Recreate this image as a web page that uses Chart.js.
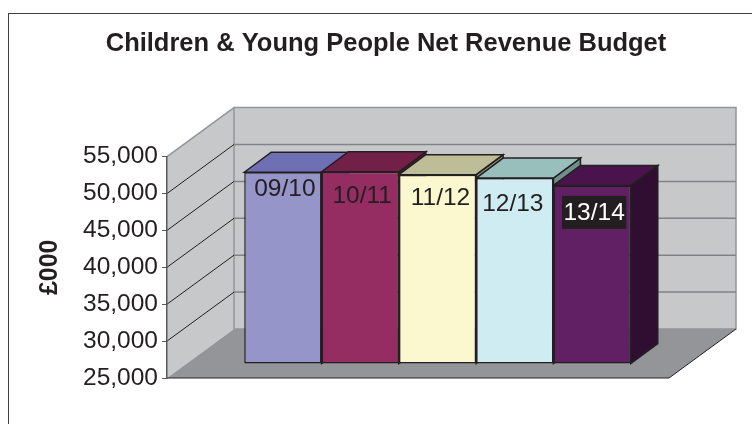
<!DOCTYPE html>
<html>
<head>
<meta charset="utf-8">
<style>
  html, body { margin: 0; padding: 0; background: #fff; overflow: hidden; }
  #wrap { position: relative; width: 752px; height: 424px; overflow: hidden; }
  #frame { position: absolute; left: 8px; top: 13px; width: 780px; height: 440px;
           border: 1.5px solid #414042; box-sizing: border-box; }
  canvas { position: absolute; left: 0; top: 0; }
</style>
</head>
<body>
<div id="wrap">
  <div id="frame"></div>
  <canvas id="c" width="752" height="424"></canvas>
</div>
<script src="https://cdn.jsdelivr.net/npm/chart.js@4/dist/chart.umd.min.js"></script>
<script>
// Net revenue budget by financial year, in thousands of pounds
const years = ['09/10', '10/11', '11/12', '12/13', '13/14'];
const budget = [50980, 51050, 50650, 50200, 49200];
const tickValues = [25000, 30000, 35000, 40000, 45000, 50000, 55000];

const frontFill = ['#9595c9', '#952d62', '#fbf8cf', '#cfecf3', '#612063'];
const topFill = ['#6f6fb3', '#722048', '#bdbd97', '#99bfbd', '#4a134e'];
const sideFill = ['#53538a', '#4f1632', '#8c8c70', '#6f8f8d', '#300e32'];
const labelColor = ['#231f20', '#231f20', '#231f20', '#231f20', '#ffffff'];
const labelBox = [null, null, null, null, '#231f20'];
const labelDrop = [16, 23, 23, 25, 27];
const labelShift = [2, 2, 3, -2, 2];

const INK = '#231f20';
const WALL = '#c7c8ca';
const FLOOR = '#939598';
const DEPTH = { x: 67, y: -49 };      // front plane to back wall
const BAR_OFFSET = { x: 19.5, y: -14 }; // front plane to the bars' front faces
const BAR_DEPTH = { x: 27, y: -20 };  // front to rear of each bar

function poly(ctx, pts, fill, stroke, lw) {
  ctx.beginPath();
  pts.forEach((p, i) => i ? ctx.lineTo(p[0], p[1]) : ctx.moveTo(p[0], p[1]));
  ctx.closePath();
  if (fill) { ctx.fillStyle = fill; ctx.fill(); }
  if (stroke) { ctx.strokeStyle = stroke; ctx.lineWidth = lw; ctx.lineJoin = 'miter'; ctx.stroke(); }
}

const box3d = {
  id: 'box3d',
  // Centre the heading over the whole box, not just the plot's column
  afterLayout(chart) {
    chart.titleBlock.left = 20;
    chart.titleBlock.right = 752;
  },
  // Side wall, back wall, floor and their gridlines
  beforeDraw(chart) {
    const { ctx, chartArea: a, scales: { y } } = chart;
    const dx = DEPTH.x, dy = DEPTH.y;
    const last = tickValues[tickValues.length - 1];
    ctx.save();
    poly(ctx, [[a.left, a.top], [a.left + dx, a.top + dy], [a.left + dx, a.bottom + dy], [a.left, a.bottom]], WALL);
    poly(ctx, [[a.left + dx, a.top + dy], [a.right + dx, a.top + dy], [a.right + dx, a.bottom + dy], [a.left + dx, a.bottom + dy]], WALL, '#939598', 1.5);
    poly(ctx, [[a.left, a.bottom], [a.right, a.bottom], [a.right + dx, a.bottom + dy], [a.left + dx, a.bottom + dy]], FLOOR);

    tickValues.forEach(v => {
      const py = y.getPixelForValue(v);
      if (v > tickValues[0]) {
        ctx.strokeStyle = v === last ? '#939598' : INK;
        ctx.lineWidth = v === last ? 1.5 : 1;
        ctx.beginPath(); ctx.moveTo(a.left, py); ctx.lineTo(a.left + dx, py + dy); ctx.stroke();
      }
      if (v > tickValues[0] && v < last) {
        ctx.strokeStyle = '#808285'; ctx.lineWidth = 1.5;
        ctx.beginPath(); ctx.moveTo(a.left + dx, py + dy); ctx.lineTo(a.right + dx, py + dy); ctx.stroke();
      }
    });
    // Front and right edges of the floor
    ctx.strokeStyle = INK; ctx.lineWidth = 1;
    ctx.beginPath();
    ctx.moveTo(a.left, a.bottom); ctx.lineTo(a.right, a.bottom); ctx.lineTo(a.right + dx, a.bottom + dy);
    ctx.stroke();
    ctx.restore();
  },
  // Top and side faces, painted left to right behind the front faces
  beforeDatasetsDraw(chart) {
    const { ctx } = chart;
    ctx.save();
    ctx.translate(BAR_OFFSET.x, BAR_OFFSET.y);
    years.forEach((_, i) => {
      const b = chart.getDatasetMeta(i).data[0];
      const l = b.x - b.width / 2, r = b.x + b.width / 2, t = b.y, bt = b.base;
      const dx = BAR_DEPTH.x, dy = BAR_DEPTH.y;
      poly(ctx, [[r, t], [r + dx, t + dy], [r + dx, bt + dy], [r, bt]], sideFill[i], INK, 1.5);
      poly(ctx, [[l, t], [l + dx, t + dy], [r + dx, t + dy], [r, t]], topFill[i], INK, 1.5);
    });
    ctx.restore();
  },
  beforeDatasetDraw(chart) {
    chart.ctx.save();
    chart.ctx.translate(BAR_OFFSET.x, BAR_OFFSET.y);
  },
  afterDatasetDraw(chart) {
    chart.ctx.restore();
  },
  // Year names printed inside the bars
  afterDatasetsDraw(chart) {
    const { ctx } = chart;
    ctx.save();
    ctx.font = '24.5px "Liberation Sans"';
    ctx.textAlign = 'center';
    ctx.textBaseline = 'middle';
    years.forEach((name, i) => {
      const b = chart.getDatasetMeta(i).data[0];
      const x = b.x + BAR_OFFSET.x + labelShift[i];
      const y = b.y + BAR_OFFSET.y + labelDrop[i];
      if (labelBox[i]) {
        const w = ctx.measureText(name).width + 3;
        ctx.fillStyle = labelBox[i];
        ctx.fillRect(x - w / 2, y - 16.5, w, 33);
      }
      ctx.fillStyle = labelColor[i];
      ctx.fillText(name, x, y + 1);
    });
    ctx.restore();
  }
};

new Chart(document.getElementById('c'), {
  type: 'bar',
  data: {
    labels: [''],
    datasets: years.map((name, i) => ({
      label: name,
      data: [budget[i]],
      base: tickValues[0],
      backgroundColor: frontFill[i],
      borderColor: INK,
      borderWidth: 1.5,
      borderSkipped: false,
      clip: false
    }))
  },
  options: {
    responsive: false,
    animation: false,
    categoryPercentage: 0.77,
    barPercentage: 1,
    layout: { padding: { left: 0, right: 83, top: 0, bottom: 46 } },
    plugins: {
      legend: { display: false },
      tooltip: { enabled: false },
      title: {
        display: true,
        text: 'Children & Young People Net Revenue Budget',
        color: INK,
        font: { family: '"Liberation Sans"', size: 25.5, weight: 'bold' },
        padding: { top: 29, bottom: 97 }
      }
    },
    scales: {
      x: { display: false },
      y: {
        min: 25000,
        max: 55000,
        afterFit(scale) { scale.width = 167; },
        afterBuildTicks(scale) { scale.ticks = tickValues.map(value => ({ value })); },
        ticks: {
          color: INK,
          padding: 4,
          font: { family: '"Liberation Sans"', size: 24.5 },
          callback: v => v.toLocaleString('en-GB')
        },
        grid: { drawOnChartArea: false, drawTicks: true, tickLength: 5, color: '#58595b' },
        border: { color: '#58595b', width: 1.5 },
        title: {
          display: true,
          text: '£000',
          color: INK,
          padding: { top: 35, bottom: 0 },
          font: { family: '"Liberation Sans"', size: 25, weight: 'bold' }
        }
      }
    }
  },
  plugins: [box3d]
});
</script>
</body>
</html>
